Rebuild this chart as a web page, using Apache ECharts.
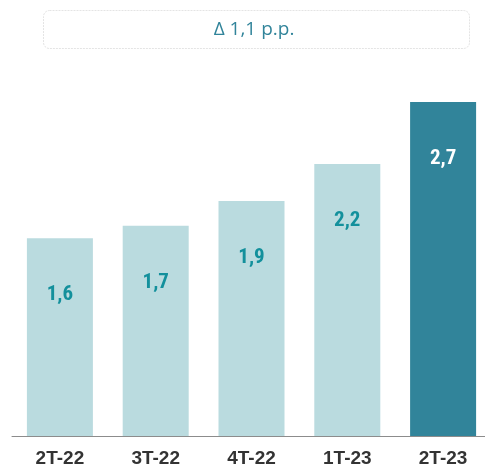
<!DOCTYPE html>
<html><head><meta charset="utf-8">
<script src="https://cdn.jsdelivr.net/npm/echarts@6/dist/echarts.min.js"></script>
<style>html,body{margin:0;padding:0;background:#fff}#c{width:485px;height:469px}</style>
</head><body><div id="c"></div>
<script>
const categories = ['2T-22','3T-22','4T-22','1T-23','2T-23'];
const values = [1.6, 1.7, 1.9, 2.2, 2.7];
const deltaText = 'Δ 1,1 p.p.';

const LIGHT = '#badbdf', DARK = '#31849a';
const chart = echarts.init(document.getElementById('c'), null, {renderer:'canvas'});
const last = values.length - 1;
chart.setOption({
  animation: false,
  backgroundColor: '#fff',
  grid: {left: 12, width: 479, top: 65, bottom: 33, outerBoundsMode: 'none', containLabel: false},
  xAxis: {
    type: 'category', data: categories,
    axisLine: {lineStyle: {color: '#8c8c8c', width: 1}},
    axisTick: {show: false},
    axisLabel: {color: '#333', fontSize: 19, fontWeight: 'bold', fontFamily: 'Liberation Sans, Arial, sans-serif', margin: 13}
  },
  yAxis: {type: 'value', min: 0, max: 3, show: false, splitLine: {show: false}},
  series: [{
    type: 'bar', barWidth: 66,
    data: values.map((v, i) => ({
      value: v,
      itemStyle: {color: i === last ? DARK : LIGHT},
      label: {color: i === last ? '#fff' : '#13909c'}
    })),
    label: {
      show: true, position: 'insideTop', distance: 46,
      fontSize: 21, fontWeight: 'bold',
      fontFamily: 'Liberation Sans Narrow, Arial Narrow, Roboto Condensed, Liberation Sans, sans-serif',
      formatter: p => String(p.value).replace('.', ',')
    }
  }],
  graphic: [
    {type: 'rect', shape: {x: 43.5, y: 10.5, width: 426, height: 38, r: 6},
     style: {fill: '#fff', stroke: '#e4e4e4', lineWidth: 1, lineDash: [2, 1]}},
    {type: 'text', x: 254, y: 30,
     style: {text: deltaText, fill: '#31849a', fontSize: 19, fontFamily: 'Open Sans, Lato, sans-serif', align: 'center', verticalAlign: 'middle'}}
  ]
});
</script></body></html>
